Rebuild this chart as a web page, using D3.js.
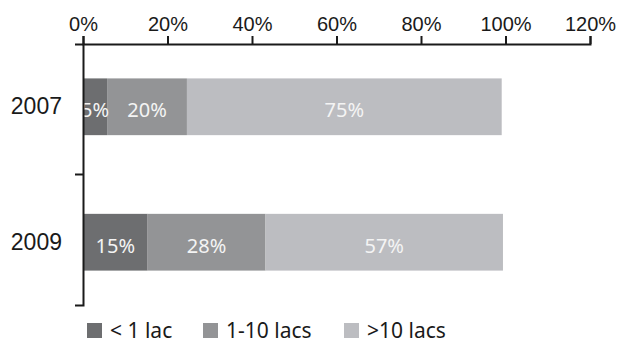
<!DOCTYPE html>
<html>
<head>
<meta charset="utf-8">
<script src="https://cdn.jsdelivr.net/npm/d3@7"></script>
<style>
  body { margin: 0; background: #fff; }
  svg { display: block; font-family: "Noto Sans", sans-serif; }
</style>
</head>
<body>
<svg id="chart" width="619" height="343"></svg>
<script>
const years = ["2007", "2009"];
const seriesNames = ["< 1 lac", "1-10 lacs", ">10 lacs"];
const seriesColors = ["#6d6e70", "#939496", "#bcbdc1"];
// share of each band
const lessThan1 = [5.7, 15.3];
const oneTo10 = [18.9, 27.9];
const moreThan10 = [74.5, 56.2];
// labels printed on the bars
const barLabels = [["5%", "20%", "75%"], ["15%", "28%", "57%"]];
const xTicks = [0, 20, 40, 60, 80, 100, 120];

const svg = d3.select("#chart");

const x = d3.scaleLinear().domain([0, 120]).range([83, 590]);
const y = d3.scaleBand()
  .domain(years)
  .range([44, 305])
  .paddingInner(0.581)
  .paddingOuter(0.254);

const rows = years.map((yr, i) => {
  const vals = [lessThan1[i], oneTo10[i], moreThan10[i]];
  let start = 0;
  return vals.map((v, j) => {
    const seg = { year: yr, x0: start, x1: start + v, color: seriesColors[j], label: barLabels[i][j] };
    start += v;
    return seg;
  });
});

const segs = rows.flat();

svg.selectAll(".bar")
  .data(segs)
  .enter()
  .append("rect")
  .attr("class", "bar")
  .attr("x", d => x(d.x0))
  .attr("y", d => y(d.year))
  .attr("width", d => x(d.x1) - x(d.x0))
  .attr("height", y.bandwidth())
  .attr("fill", d => d.color);

svg.selectAll(".lbl")
  .data(segs)
  .enter()
  .append("text")
  .attr("class", "lbl")
  .attr("x", d => (x(d.x0) + x(d.x1)) / 2)
  .attr("y", d => y(d.year) + y.bandwidth() / 2)
  .attr("dy", "0.53em")
  .attr("text-anchor", "middle")
  .attr("fill", "#f4f4f4")
  .style("font-size", "20px")
  .text(d => d.label);

// top axis
const xAxis = svg.append("g")
  .attr("transform", "translate(0,44)")
  .call(d3.axisTop(x).tickValues(xTicks).tickFormat(d => d + "%").tickSize(8).tickPadding(5));
xAxis.selectAll("text").style("font-size", "20px").attr("fill", "#1a1a1a");
xAxis.selectAll("line, path").attr("stroke", "#1a1a1a").attr("stroke-width", 2);

// left axis
const yAxis = svg.append("g")
  .attr("transform", "translate(83,0)")
  .call(d3.axisLeft(y).tickSize(0).tickSizeOuter(8).tickPadding(21));
yAxis.selectAll("text").style("font-size", "23px").attr("fill", "#1a1a1a");
yAxis.select("path").attr("stroke", "#1a1a1a").attr("stroke-width", 2);

// tick between the two categories
const mid = (y(years[0]) + y.bandwidth() + y(years[1])) / 2;
yAxis.append("line")
  .attr("x1", -8).attr("x2", 0)
  .attr("y1", mid).attr("y2", mid)
  .attr("stroke", "#1a1a1a")
  .attr("stroke-width", 2);

// legend
const legendX = [87, 203, 344];
const legend = svg.selectAll(".legend")
  .data(seriesNames)
  .enter()
  .append("g")
  .attr("class", "legend")
  .attr("transform", (d, i) => `translate(${legendX[i]},323)`);

legend.append("rect")
  .attr("width", 15)
  .attr("height", 15)
  .attr("fill", (d, i) => seriesColors[i]);

legend.append("text")
  .attr("x", 23)
  .attr("y", 15)
  .style("font-size", "21px")
  .attr("fill", "#1a1a1a")
  .text(d => d);
</script>
</body>
</html>
